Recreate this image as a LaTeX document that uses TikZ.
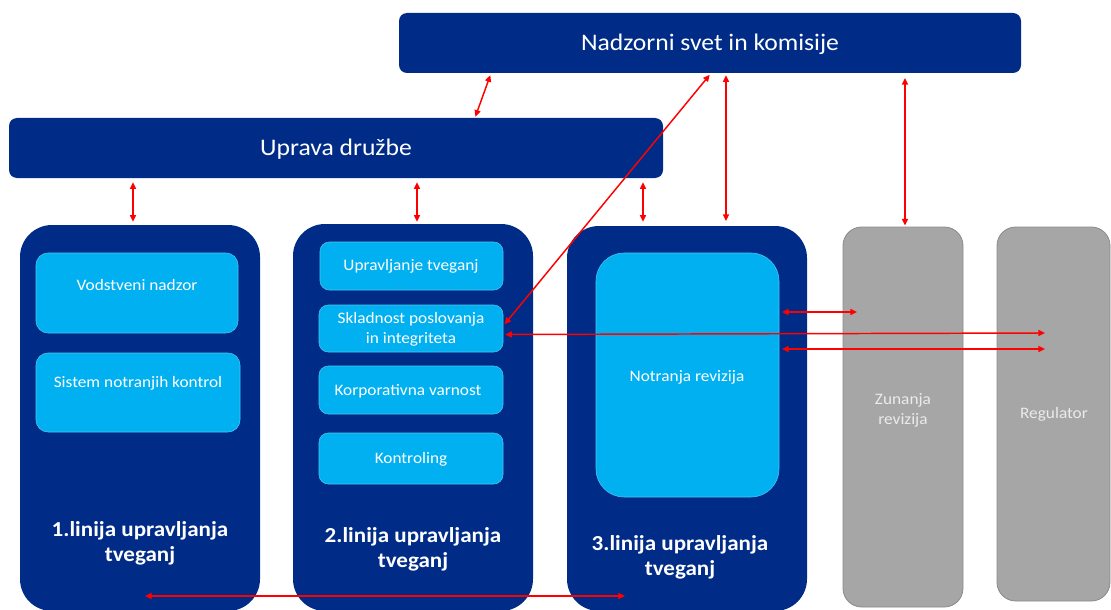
\documentclass[tikz,border=0pt]{standalone}
\usepackage{fontspec}
\setmainfont{Carlito}[FakeStretch=1.08]
\usetikzlibrary{arrows.meta,fit}
\definecolor{navy}{RGB}{0,44,135}
\definecolor{lblue}{RGB}{0,176,240}
\definecolor{gbox}{RGB}{166,166,166}
\definecolor{gline}{RGB}{138,138,138}
\definecolor{gtext}{RGB}{235,235,235}
\definecolor{ared}{RGB}{255,0,0}
\tikzset{
  bar/.style={fill=navy, draw=none, rounded corners=6pt, inner sep=0pt},
  bar text/.style={text=white, inner sep=0pt, font=\fontsize{17.8}{20}\selectfont},
  column/.style={fill=navy, draw=none, rounded corners=24pt, inner sep=0pt},
  gray col/.style={fill=gbox, draw=gline, line width=0.6pt, rounded corners=14pt, inner sep=0pt},
  inner box/.style={fill=lblue, draw=lblue!70!white, line width=0.4pt, rounded corners=7pt, inner sep=0pt},
  small text/.style={text=white, font=\fontsize{12}{15}\selectfont, align=center, inner sep=0pt},
  gray text/.style={text=gtext, font=\fontsize{12}{15}\selectfont, align=center, inner sep=0pt},
  line label/.style={text=white, font=\bfseries\fontsize{16}{18.5}\selectfont, align=center, inner sep=0pt},
  arr/.style={draw=ared, line width=1.1pt,
    {Triangle[length=5pt,width=4.5pt]}-{Triangle[length=5pt,width=4.5pt]}}
}
\begin{document}
\begin{tikzpicture}[x=0.75pt,y=-0.75pt]
\useasboundingbox (0,0) rectangle (1111,610);
% top bars
\node[bar, fit={(399,13) (1021,73)}] (nad) {};
\node[bar, fit={(9,118) (663,178)}] (upr) {};
\node[bar text] (tnad) at (710,44) {Nadzorni svet in komisije};
\node[bar text] (tupr) at (336,149) {Uprava družbe};
% columns
\node[column, fit={(20,225) (260,611)}] (col1) {};
\node[column, fit={(293,224) (533,611)}] (col2) {};
\node[column, fit={(567,226) (807,611)}] (col3) {};
\node[gray col, fit={(843,227) (963,607)}] (zun) {};
\node[gray col, fit={(997,227) (1110,601)}] (reg) {};
% inner boxes
\node[inner box, rounded corners=9pt, fit={(36,253) (238,333)}] (vod) {};
\node[inner box, rounded corners=9pt, fit={(36,353) (240,432)}] (sis) {};
\node[inner box, fit={(320,242) (503,290)}] (upt) {};
\node[inner box, fit={(319,305) (503,352)}] (skl) {};
\node[inner box, fit={(319,366) (503,414)}] (kor) {};
\node[inner box, fit={(319,433) (503,484)}] (kon) {};
\node[inner box, rounded corners=21pt, fit={(596,253) (779,497)}] (notr) {};
% texts
\node[small text] (tvod) at (137,285) {Vodstveni nadzor};
\node[small text] (tsis) at (138,383) {Sistem notranjih kontrol};
\node[small text] (tupt) at (411,266) {Upravljanje tveganj};
\node[small text] (tskl) at (411,329) {Skladnost poslovanja\\in integriteta};
\node[small text] (tkor) at (408,391) {Korporativna varnost};
\node[small text] (tkon) at (411,459) {Kontroling};
\node[small text] (tnotr) at (687,377) {Notranja revizija};
\node[gray text] (tzun) at (903,410) {Zunanja\\revizija};
\node[gray text] (treg) at (1054,414) {Regulator};
\node[line label] (l1) at (140,543) {1.linija upravljanja\\tveganj};
\node[line label] (l2) at (413,549) {2.linija upravljanja\\tveganj};
\node[line label] (l3) at (680,557) {3.linija upravljanja\\tveganj};
% helper coordinates
\coordinate (xa) at (491,0);
\coordinate (xb) at (475,0);
\coordinate (x1) at (133,0);
\coordinate (x2) at (417,0);
\coordinate (x3) at (643,0);
\coordinate (x4) at (726,0);
\coordinate (x5) at (905,0);
\coordinate (x6) at (711,0);
\coordinate (r1) at (1045,333);
\coordinate (z1) at (857,312);
\coordinate (r2) at (1045,349);
\coordinate (b1) at (145,596);
\coordinate (b2) at (625,596);
% arrows
\draw[arr, shorten <=1.5pt, shorten >=0.8pt] (nad.south -| xa) -- (upr.north -| xb);
\draw[arr, shorten <=3pt, shorten >=2.2pt] (upr.south -| x1) -- (col1.north -| x1);
\draw[arr, shorten <=3pt, shorten >=1.5pt] (upr.south -| x2) -- (col2.north -| x2);
\draw[arr, shorten <=3pt, shorten >=3pt] (upr.south -| x3) -- (col3.north -| x3);
\draw[arr, shorten <=1.5pt, shorten >=3.5pt] (nad.south -| x4) -- (col3.north -| x4);
\draw[arr, shorten <=3.5pt, shorten >=0.8pt] (nad.south -| x5) -- (zun.north -| x5);
\draw[arr, shorten <=1.5pt, shorten >=1.5pt] (nad.south -| x6) -- ([yshift=2pt]skl.east);
\draw[arr, shorten <=1.5pt] ([yshift=-4.5pt]skl.east) -- (r1);
\draw[arr, shorten <=2pt] (notr.east |- z1) -- (z1);
\draw[arr, shorten <=2pt] (notr.east |- r2) -- (r2);
\draw[arr] (b1) -- (b2);
\end{tikzpicture}
\end{document}
